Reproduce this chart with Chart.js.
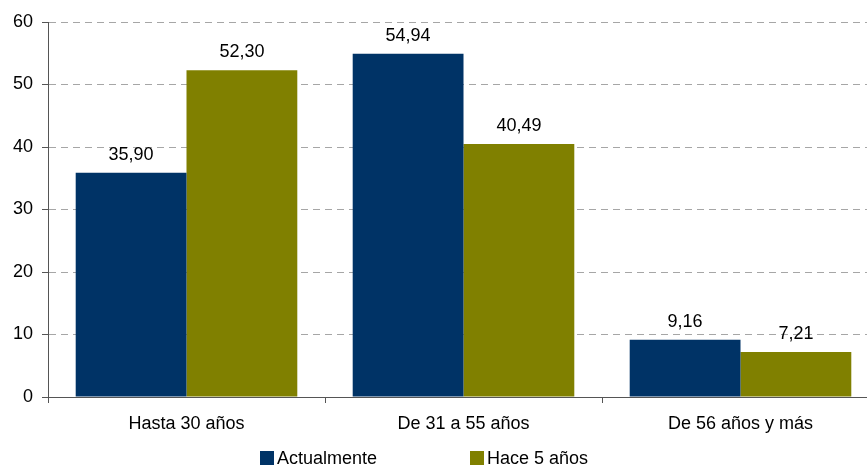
<!DOCTYPE html>
<html>
<head>
<meta charset="utf-8">
<script src="https://cdn.jsdelivr.net/npm/chart.js@4"></script>
<style>
  html, body { margin: 0; padding: 0; background: #fff; overflow: hidden; }
  #wrap { width: 867px; height: 465px; overflow: hidden; position: relative; }
  #c { display: block; }
</style>
</head>
<body>
<div id="wrap"><canvas id="c" width="879" height="465"></canvas></div>
<script>
const categories = ["Hasta 30 años", "De 31 a 55 años", "De 56 años y más"];
const actualmente = [35.90, 54.94, 9.16];
const hace5 = [52.30, 40.49, 7.21];
const seriesNames = ["Actualmente", "Hace 5 años"];
const yTicks = [0, 10, 20, 30, 40, 50, 60];

const FONT = '"Liberation Sans", Arial, sans-serif';

const valueLabels = {
  id: 'valueLabels',
  afterDatasetsDraw(chart) {
    const ctx = chart.ctx;
    ctx.save();
    ctx.font = '18px ' + FONT;
    ctx.fillStyle = '#000';
    ctx.textAlign = 'center';
    ctx.textBaseline = 'alphabetic';
    chart.data.datasets.forEach((ds, i) => {
      const meta = chart.getDatasetMeta(i);
      meta.data.forEach((el, j) => {
        const v = ds.data[j];
        ctx.fillText(v.toFixed(2).replace('.', ','), el.x, el.y - 13);
      });
    });
    ctx.restore();
  }
};

const customLegend = {
  id: 'customLegend',
  afterDraw(chart) {
    const ctx = chart.ctx;
    ctx.save();
    ctx.font = '18px ' + FONT;
    ctx.textBaseline = 'middle';
    ctx.textAlign = 'left';
    const positions = [260, 470];
    const y = 458;
    chart.data.datasets.forEach((ds, i) => {
      const x = positions[i];
      ctx.fillStyle = ds.backgroundColor;
      ctx.fillRect(x, y - 7, 14, 14);
      ctx.fillStyle = '#000';
      ctx.fillText(ds.label, x + 17, y + 1);
    });
    ctx.restore();
  }
};

new Chart(document.getElementById('c'), {
  type: 'bar',
  data: {
    labels: categories,
    datasets: [
      { label: seriesNames[0], data: actualmente, backgroundColor: '#003366' },
      { label: seriesNames[1], data: hace5, backgroundColor: '#808000' }
    ]
  },
  options: {
    responsive: false,
    animation: false,
    devicePixelRatio: 1,
    layout: { padding: { top: 22, right: 0, bottom: 0, left: 0 } },
    datasets: { bar: { categoryPercentage: 0.8, barPercentage: 1.0 } },
    plugins: {
      legend: { display: false },
      tooltip: { enabled: false }
    },
    scales: {
      x: {
        grid: {
          display: true,
          drawOnChartArea: false,
          drawTicks: true,
          tickLength: 6,
          tickColor: '#555',
          offset: true
        },
        border: { display: true, color: '#555', width: 1 },
        ticks: { font: { family: FONT, size: 18 }, color: '#000', padding: 10 },
        afterFit(scale) { scale.height = 68; }
      },
      y: {
        min: 0,
        max: 60,
        afterBuildTicks(scale) { scale.ticks = yTicks.map(v => ({ value: v })); },
        grid: {
          color: '#a6a6a6',
          tickBorderDash: [],
          tickColor: '#555',
          tickLength: 6,
          drawTicks: true
        },
        border: { display: true, color: '#555', width: 1, dash: [7, 5] },
        ticks: { font: { family: FONT, size: 18 }, color: '#000', padding: 9 },
        afterFit(scale) { scale.width = 48; }
      }
    }
  },
  plugins: [valueLabels, customLegend]
});
</script>
</body>
</html>
